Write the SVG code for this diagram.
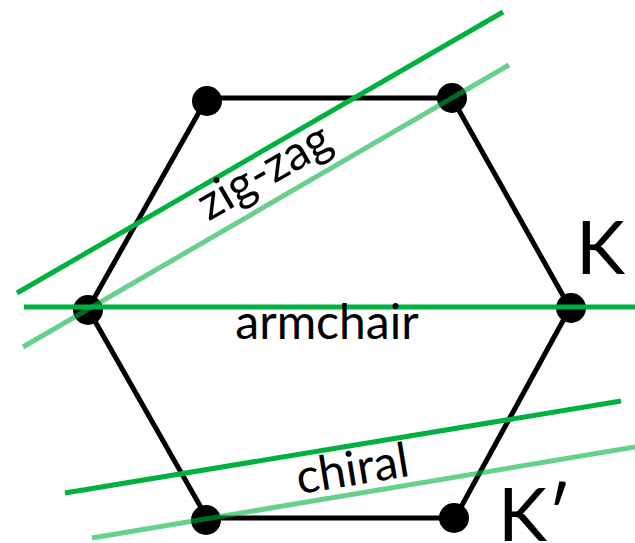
<svg xmlns="http://www.w3.org/2000/svg" width="635" height="543" viewBox="0 0 635 543">
<style>
.edge{fill:none;stroke:#000;stroke-width:5;stroke-linejoin:round}
.dot{fill:#000}
.g{stroke:#00b140;stroke-width:5;fill:none}
.gl{stroke:#00b140;stroke-opacity:0.6;stroke-width:5;fill:none}
.t{font-family:Lato,"Open Sans",sans-serif;fill:#000}
</style>
<rect width="635" height="543" fill="#fff"/>
<g id="hexagon">
<polygon class="edge" points="207,98 452,98 570,308 455,518 207,518 88,309"/>
</g>
<g id="nodes">
<g id="v1"><circle class="dot" cx="207" cy="101" r="15"/></g>
<g id="v2"><circle class="dot" cx="452" cy="98" r="15"/></g>
<g id="v3"><circle class="dot" cx="571" cy="308" r="15"/></g>
<g id="v4"><circle class="dot" cx="454" cy="518" r="15"/></g>
<g id="v5"><circle class="dot" cx="206" cy="520" r="15"/></g>
<g id="v6"><circle class="dot" cx="88" cy="310" r="15"/></g>
</g>
<g id="connectors">
<line class="g" x1="17" y1="293" x2="503" y2="12"/>
<line class="gl" x1="23" y1="347" x2="509" y2="65"/>
<line class="g" x1="24" y1="307" x2="635" y2="307"/>
<line class="g" x1="65" y1="493" x2="621" y2="401"/>
<line class="gl" x1="92" y1="538" x2="635" y2="447"/>
</g>
<g id="labels">
<text class="t" x="327" y="339" font-size="48" text-anchor="middle">armchair</text>
<text class="t" transform="translate(272,185) rotate(-30)" font-size="48" text-anchor="middle">zig-zag</text>
<text class="t" transform="translate(355,485) rotate(-9.4)" font-size="48" text-anchor="middle">chiral</text>
<text class="t" x="576" y="274" font-size="74">K</text>
<text class="t" x="498" y="541" font-size="74">K′</text>
</g>
</svg>
